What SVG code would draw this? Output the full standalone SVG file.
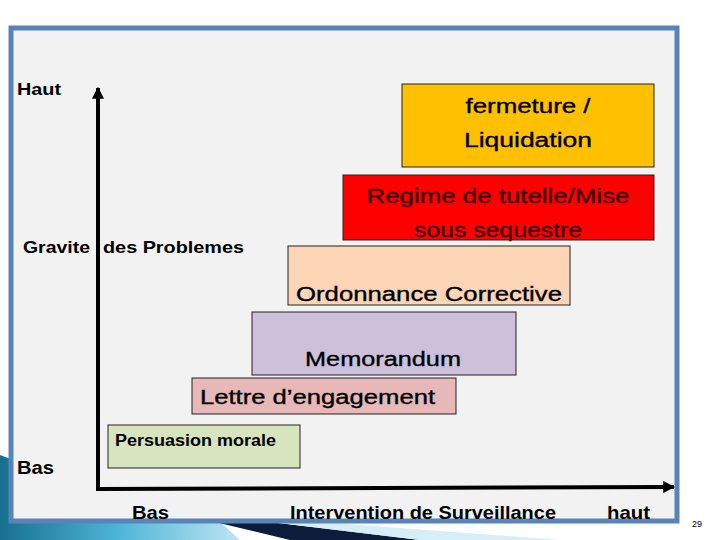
<svg xmlns="http://www.w3.org/2000/svg" width="720" height="540" viewBox="0 0 720 540">
<defs>
<linearGradient id="sw" x1="0" y1="0" x2="1" y2="0">
<stop offset="0" stop-color="#17708f"/>
<stop offset="0.5" stop-color="#4fb6d8"/>
<stop offset="1" stop-color="#bfe4f2"/>
</linearGradient>
<marker id="ah" viewBox="0 0 10 10" refX="9" refY="5" markerWidth="3" markerHeight="3" orient="auto" markerUnits="strokeWidth">
<path d="M0,0 L10,5 L0,10 z" fill="#000"/>
</marker>
<style>
.t{font-family:"Liberation Sans",Arial,sans-serif;fill:#000;}
.b{font-weight:bold;}
.r{stroke:#000;stroke-width:0.35;}
.box{stroke:#222;stroke-width:1;}
</style>
</defs>
<rect width="720" height="540" fill="#ffffff"/>
<path d="M0,455 Q120,500 240,540 L0,540 Z" fill="url(#sw)"/>
<polygon points="0,520 0,540 240,540 220,522" fill="url(#sw)"/>
<polygon points="215,522 290,540 420,540 270,522" fill="#0b1d3a"/>
<polygon points="270,522 420,540 560,540 320,522" fill="#d6eef8"/>
<rect x="11" y="28" width="666" height="493" fill="#f2f2f2" stroke="#5a84b6" stroke-width="5"/>
<text class="t" x="692" y="527" font-size="9">29</text>

<g id="axes">
<line x1="98" y1="490" x2="98" y2="88" stroke="#000" stroke-width="4" marker-end="url(#ah)"/>
<line x1="96" y1="489" x2="674" y2="487" stroke="#000" stroke-width="4" marker-end="url(#ah)"/>
</g>

<g id="labels">
<text class="t b" x="17" y="95" font-size="17" textLength="44" lengthAdjust="spacingAndGlyphs">Haut</text>
<text class="t b" x="23" y="253" font-size="17" textLength="67" lengthAdjust="spacingAndGlyphs">Gravite</text>
<text class="t b" x="103" y="253" font-size="17" textLength="141" lengthAdjust="spacingAndGlyphs">des Problemes</text>
<text class="t b" x="17" y="474" font-size="18" textLength="37" lengthAdjust="spacingAndGlyphs">Bas</text>
<text class="t b" x="132" y="519" font-size="19" textLength="37" lengthAdjust="spacingAndGlyphs">Bas</text>
<text class="t b" x="290" y="519" font-size="19" textLength="266" lengthAdjust="spacingAndGlyphs">Intervention de Surveillance</text>
<text class="t b" x="607" y="519" font-size="19" textLength="43" lengthAdjust="spacingAndGlyphs">haut</text>
</g>

<g id="fermeture">
<rect class="box" x="402" y="84" width="252" height="83" fill="#ffc000"/>
<text class="t r" x="528" y="113" font-size="20" text-anchor="middle" textLength="125" lengthAdjust="spacingAndGlyphs">fermeture /</text>
<text class="t r" x="528" y="147" font-size="20" text-anchor="middle" textLength="128" lengthAdjust="spacingAndGlyphs">Liquidation</text>
</g>

<g id="regime">
<rect class="box" x="343" y="175" width="311" height="65" fill="#ff0000"/>
<text class="t" x="498" y="203" font-size="21" text-anchor="middle" style="fill:#3a0000;stroke:#3a0000;stroke-width:0.35" textLength="263" lengthAdjust="spacingAndGlyphs">Regime  de tutelle/Mise</text>
<text class="t" x="498" y="237" font-size="21" text-anchor="middle" style="fill:#3a0000;stroke:#3a0000;stroke-width:0.35" textLength="168" lengthAdjust="spacingAndGlyphs">sous sequestre</text>
</g>

<g id="ordonnance">
<rect class="box" x="288" y="246" width="282" height="59" fill="#fbd5b5"/>
<text class="t r" x="296" y="301" font-size="20" textLength="266" lengthAdjust="spacingAndGlyphs">Ordonnance Corrective</text>
</g>

<g id="memorandum">
<rect class="box" x="252" y="312" width="264" height="63" fill="#ccc0da"/>
<text class="t r" x="383" y="366" font-size="20" text-anchor="middle" textLength="156" lengthAdjust="spacingAndGlyphs">Memorandum</text>
</g>

<g id="lettre">
<rect class="box" x="192" y="378" width="264" height="36" fill="#e6b9b8"/>
<text class="t r" x="200" y="404" font-size="20" textLength="235" lengthAdjust="spacingAndGlyphs">Lettre d’engagement</text>
</g>

<g id="persuasion">
<rect class="box" x="108" y="425" width="192" height="43" fill="#d7e4bd"/>
<text class="t b" x="115" y="446" font-size="16" textLength="161" lengthAdjust="spacingAndGlyphs">Persuasion morale</text>
</g>
</svg>
